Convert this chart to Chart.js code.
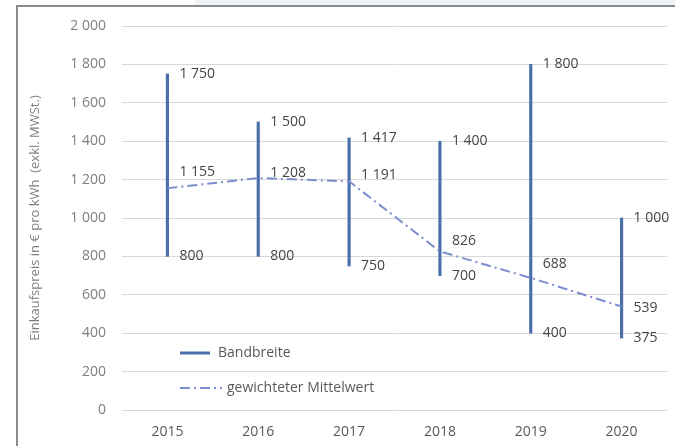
<!DOCTYPE html>
<html>
<head>
<meta charset="utf-8">
<script src="https://cdn.jsdelivr.net/npm/chart.js@4.4.0/dist/chart.umd.min.js"></script>
<style>
    html, body { margin: 0; padding: 0; background: #fff; }
    #wrap { position: relative; width: 675px; height: 446px; overflow: hidden; }
    #strip { position: absolute; left: 195px; top: 0; width: 480px; height: 5px; background: #edf2f6; }
    #frame { position: absolute; left: 16px; top: 5px; width: 700px; height: 480px;
             border-left: 2px solid #8a8a8a; border-top: 2px solid #8a8a8a; }
    canvas { position: absolute; left: 0; top: 0; }
</style>
</head>
<body>
<div id="wrap">
    <div id="strip"></div>
    <div id="frame"></div>
    <canvas id="priceChart" width="675" height="446"></canvas>
</div>
<script>
const years = ['2015', '2016', '2017', '2018', '2019', '2020'];
const rangeLow = [800, 800, 750, 700, 400, 375];
const rangeHigh = [1750, 1500, 1417, 1400, 1800, 1000];
const meanValues = [1155, 1208, 1191, 826, 688, 539];
const yTicks = [0, 200, 400, 600, 800, 1000, 1200, 1400, 1600, 1800, 2000];

const barColor = '#4a6fab';
const meanColor = '#7c8ecf';
const meanDash = [10, 4, 2, 4];
// small vertical nudges for the mean labels, as in the original
const meanLabelShift = [-16, -5, -6, -10, -14, 2];

function fmt(v) {
    return String(v).replace(/\B(?=(\d{3})+(?!\d))/g, ' ');
}

const labelPlugin = {
    id: 'valueLabels',
    afterDatasetsDraw(chart) {
        const ctx = chart.ctx;
        const x = chart.scales.x;
        const y = chart.scales.y;
        ctx.save();
        ctx.font = '14px "Open Sans"';
        ctx.fillStyle = '#454545';
        ctx.textAlign = 'left';
        ctx.textBaseline = 'middle';
        years.forEach(function (yr, i) {
            const px = x.getPixelForValue(i) + 12;
            ctx.fillText(fmt(rangeHigh[i]), px, y.getPixelForValue(rangeHigh[i]));
            ctx.fillText(fmt(rangeLow[i]), px, y.getPixelForValue(rangeLow[i]));
            ctx.fillText(fmt(meanValues[i]), px, y.getPixelForValue(meanValues[i]) + meanLabelShift[i]);
        });

        // legend inside the plot
        const lx = chart.chartArea.left + 58;
        const ly1 = chart.chartArea.top + 327;
        const ly2 = chart.chartArea.top + 362;
        ctx.strokeStyle = barColor;
        ctx.lineWidth = 3;
        ctx.beginPath();
        ctx.moveTo(lx, ly1);
        ctx.lineTo(lx + 30, ly1);
        ctx.stroke();
        ctx.strokeStyle = meanColor;
        ctx.lineWidth = 2;
        ctx.setLineDash(meanDash);
        ctx.beginPath();
        ctx.moveTo(lx, ly2);
        ctx.lineTo(lx + 42, ly2);
        ctx.stroke();
        ctx.setLineDash([]);
        ctx.font = '14px "Open Sans"';
        ctx.fillStyle = '#595959';
        ctx.fillText('Bandbreite', lx + 38, ly1);
        ctx.fillText('gewichteter Mittelwert', lx + 47, ly2);
        ctx.restore();
    }
};

const ctx = document.getElementById('priceChart').getContext('2d');
new Chart(ctx, {
    type: 'bar',
    data: {
        labels: years,
        datasets: [{
            label: 'Bandbreite',
            data: years.map((yr, i) => [rangeLow[i], rangeHigh[i]]),
            backgroundColor: barColor,
            barThickness: 2.5,
            borderSkipped: false,
            order: 2
        }, {
            type: 'line',
            label: 'gewichteter Mittelwert',
            data: meanValues,
            borderColor: meanColor,
            borderWidth: 2,
            borderDash: meanDash,
            pointRadius: 0,
            tension: 0,
            fill: false,
            order: 1
        }]
    },
    options: {
        responsive: false,
        animation: false,
        layout: { padding: { top: 26, right: 8, left: 0, bottom: 0 } },
        plugins: {
            legend: { display: false },
            tooltip: { enabled: false }
        },
        scales: {
            x: {
                grid: { display: false },
                border: { display: false },
                ticks: { color: '#595959', font: { family: 'Open Sans', size: 14 }, padding: 6 },
                afterFit: function (scale) { scale.height = 36; }
            },
            y: {
                min: 0,
                max: 2000,
                afterBuildTicks: function (scale) {
                    scale.ticks = yTicks.map(v => ({ value: v }));
                },
                ticks: {
                    color: '#7f7f7f',
                    font: { family: 'Open Sans', size: 14 },
                    padding: 16,
                    callback: function (v) { return fmt(v); }
                },
                grid: { color: '#d9d9d9', drawTicks: false },
                border: { display: false },
                title: {
                    display: true,
                    text: 'Einkaufspreis in € pro kWh  (exkl. MWSt.)',
                    color: '#7f7f7f',
                    font: { family: 'Open Sans', size: 13 },
                    padding: { top: 27, bottom: 0 }
                },
                afterFit: function (scale) { scale.width = 122; }
            }
        }
    },
    plugins: [labelPlugin]
});
</script>
</body>
</html>
